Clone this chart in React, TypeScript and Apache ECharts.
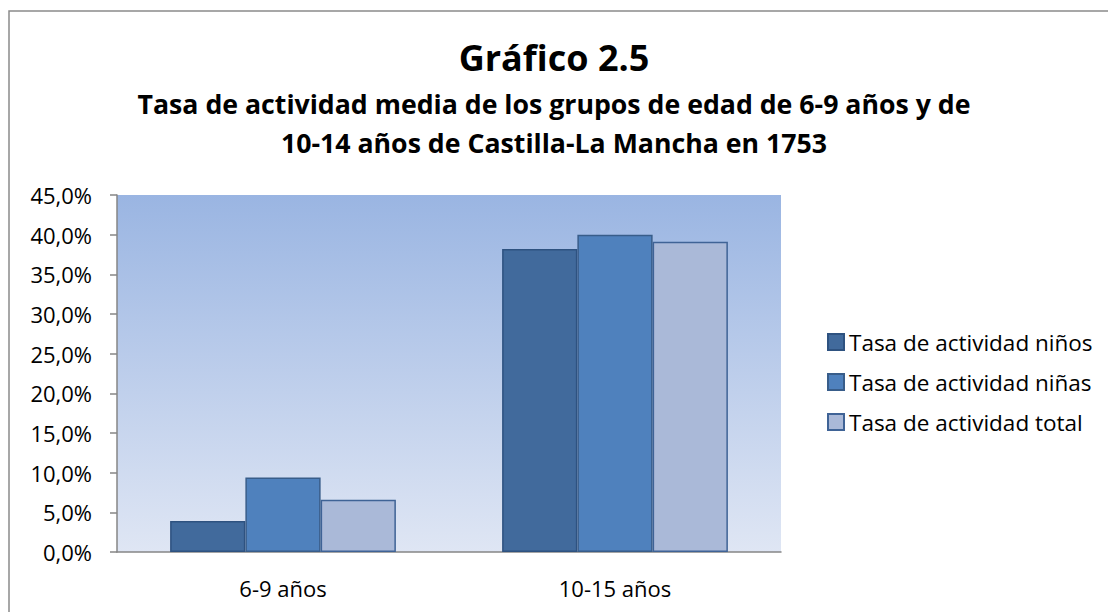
import React, { useEffect, useRef } from "react";
import * as echarts from "echarts";

const categories = ["6-9 años", "10-15 años"];
const seriesNames = ["Tasa de actividad niños", "Tasa de actividad niñas", "Tasa de actividad total"];
const ninos = [3.9, 38.2];
const ninas = [9.4, 40.0];
const total = [6.6, 39.1];
const titleText = "Gráfico 2.5";
const subtitleText = "Tasa de actividad media de los grupos de edad de 6-9 años y de\n10-14 años de Castilla-La Mancha en 1753";

const FONT = "'Open Sans', Lato, sans-serif";

export default function App() {
  const ref = useRef<HTMLDivElement>(null);
  useEffect(() => {
    document.body.style.margin = "0";
    const chart = echarts.init(ref.current!, null, { renderer: "svg" });
    const mk = (name: string, data: number[], color: string, border: string) => ({
      name,
      type: "bar",
      data,
      barGap: "0%",
      barCategoryGap: "32%",
      itemStyle: { color, borderColor: border, borderWidth: 1.5 },
    });
    chart.setOption({
      animation: false,
      textStyle: { fontFamily: FONT },
      graphic: [
        {
          type: "rect",
          shape: { x: 9, y: 11, width: 1120, height: 640 },
          style: { fill: "none", stroke: "#8a8a8a", lineWidth: 1.5 },
          silent: true,
        },
      ],
      title: [
        {
          text: titleText,
          left: "center",
          top: 34,
          textStyle: { fontFamily: FONT, fontSize: 36, fontWeight: "bold", color: "#000" },
        },
        {
          text: subtitleText,
          left: "center",
          top: 79,
          textStyle: { fontFamily: FONT, fontSize: 26.7, fontWeight: "bold", color: "#000", lineHeight: 39 },
        },
      ],
      legend: {
        orient: "vertical",
        left: 822,
        top: 325,
        icon: "rect",
        itemWidth: 16,
        itemHeight: 16,
        itemGap: 16,
        textStyle: { fontFamily: FONT, fontSize: 22.5, color: "#000", lineHeight: 24 },
        data: seriesNames,
      },
      grid: {
        left: 117,
        right: 327,
        top: 195,
        bottom: 60,
        show: true,
        borderWidth: 0,
        backgroundColor: new echarts.graphic.LinearGradient(0, 0, 0, 1, [
          { offset: 0, color: "#9ab5e2" },
          { offset: 1, color: "#dfe6f4" },
        ]),
      },
      xAxis: {
        type: "category",
        data: categories,
        axisLine: { lineStyle: { color: "#868686", width: 1.5 } },
        axisTick: { length: 7, lineStyle: { color: "#868686", width: 1.5 } },
        axisLabel: { fontFamily: FONT, fontSize: 22, color: "#000", margin: 25 },
      },
      yAxis: {
        type: "value",
        min: 0,
        max: 45,
        interval: 5,
        splitLine: { show: false },
        axisLine: { show: true, lineStyle: { color: "#868686", width: 1.5 } },
        axisTick: { show: true, length: 7, lineStyle: { color: "#868686", width: 1.5 } },
        axisLabel: {
          fontFamily: FONT,
          fontSize: 22,
          color: "#000",
          margin: 25,
          formatter: (v: number) => v.toFixed(1).replace(".", ",") + "%",
        },
      },
      series: [
        mk(seriesNames[0], ninos, "#416a9c", "#2e5280"),
        mk(seriesNames[1], ninas, "#4f81bd", "#385d8a"),
        mk(seriesNames[2], total, "#aab9d8", "#3f6396"),
      ],
    });
    return () => chart.dispose();
  }, []);
  return <div ref={ref} style={{ width: 1108, height: 612 }} />;
}
